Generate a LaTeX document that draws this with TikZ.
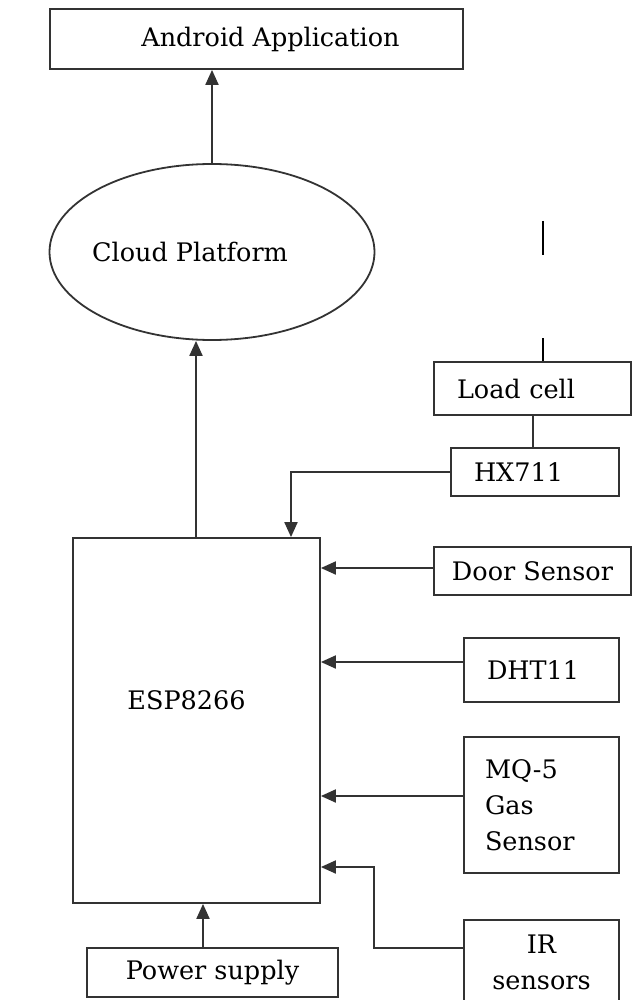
\documentclass[tikz,border=0pt]{standalone}
\usepackage{fontspec}
\setmainfont{DejaVu Serif}
\usetikzlibrary{arrows.meta}
\usetikzlibrary{shapes.geometric}

\begin{document}
\begin{tikzpicture}[x=1pt,y=-1pt,
        box/.style={draw=black!80, line width=1.8pt, inner sep=0pt, font=\fontsize{25.5}{36}\selectfont},
        leftbox/.style={box, align=left, inner xsep=23pt},
        link/.style={draw=black!80, line width=2pt},
        feed/.style={link, -{Triangle[length=15pt,width=13pt]}}]
    \useasboundingbox (0,0) rectangle (632,1000);
    \node[box, minimum width=413pt, minimum height=60pt] (app) at (256.5,39) {\hspace*{28pt}Android Application};
    \node[box, ellipse, minimum width=325pt, minimum height=176pt] (cloud) at (212,252) {\makebox[180pt]{Cloud Platform\hspace*{44pt}}};
    \node[leftbox, text width=151pt, minimum height=53pt] (load) at (532.5,388.5) {Load cell};
    \node[leftbox, text width=122pt, minimum height=48pt] (hx) at (535,472) {HX711};
    \node[box, minimum width=247pt, minimum height=365pt, text depth=40pt] (esp) at (196.5,720.5) {ESP8266\hspace*{20pt}};
    \node[box, minimum width=197pt, minimum height=48pt] (door) at (532.5,571) {Door Sensor};
    \node[leftbox, text width=109pt, minimum height=64pt] (dht) at (541.5,670) {DHT11};
    \node[leftbox, text width=113pt, minimum height=136pt, inner xsep=21pt] (mq) at (541.5,805) {MQ-5\\Gas\\Sensor};
    \node[box, align=center, minimum width=155pt, minimum height=85pt] (ir) at (541.5,962.5) {IR\\sensors};
    \node[box, minimum width=251pt, minimum height=49pt] (power) at (212.5,972.5) {Power supply};
    \coordinate (tickA) at (543,221);
    \coordinate (tickB) at (543,338);
    \coordinate (irbend) at (374,867);
    % stray marks above the load cell
    \draw[line width=2pt] (tickA) -- ++(0,34);
    \draw[line width=2pt] (tickB) -- (tickB |- load.north);
    \draw[feed] (cloud.north) -- (cloud.north |- app.south);
    \draw[feed] ([xshift=-0.5pt]esp.north) -- ([xshift=-0.5pt]esp.north |- cloud.south);
    \draw[link] (load.south) -- (load.south |- hx.north);
    \draw[feed] (hx.west) -| ([xshift=94.5pt]esp.north);
    \draw[feed] ([yshift=3pt]door.west) -- ([yshift=3pt]door.west -| esp.east);
    \draw[feed] ([yshift=8pt]dht.west) -- ([yshift=8pt]dht.west -| esp.east);
    \draw[feed] ([yshift=9pt]mq.west) -- ([yshift=9pt]mq.west -| esp.east);
    \draw[feed] ([yshift=14.5pt]ir.west) -| (irbend) -- (irbend -| esp.east);
    \draw[feed] ([xshift=-9.5pt]power.north) -- ([xshift=-9.5pt]power.north |- esp.south);
\end{tikzpicture}
\end{document}
